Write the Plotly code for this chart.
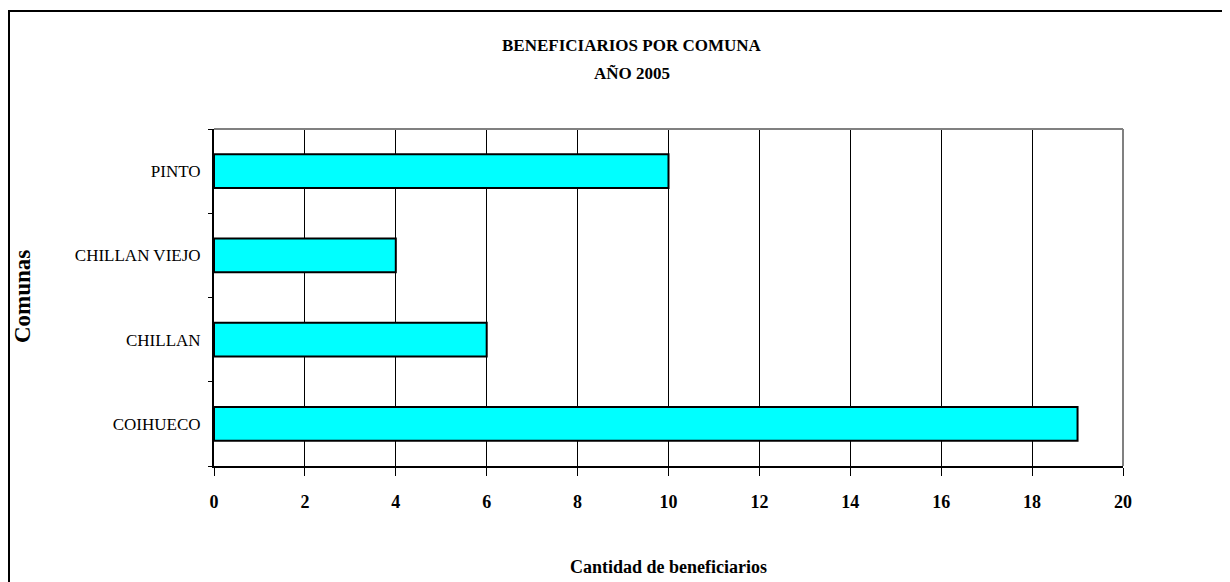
import plotly.graph_objects as go

comunas = ["COIHUECO", "CHILLAN", "CHILLAN VIEJO", "PINTO"]
beneficiarios = [19, 6, 4, 10]
x_ticks = [0, 2, 4, 6, 8, 10, 12, 14, 16, 18, 20]

# The page body has an 8px margin, so the figure is sized to fill the window.
OFF = 8
W, H = 1230 - OFF, 582 - OFF
L, T = 214 - OFF, 129 - OFF
PW, PH = 909, 337
R, B = W - L - PW, H - T - PH

def px(x):
    """reference page pixel -> paper x"""
    return (x - OFF - L) / PW

def py(y):
    """reference page pixel -> paper y"""
    return 1 - (y - OFF - T) / PH

FONT = "Liberation Serif"

fig = go.Figure(go.Bar(
    x=beneficiarios, y=comunas, orientation="h",
    marker=dict(color="#00FFFF", line=dict(color="black", width=2)),
    hoverinfo="x+y",
))

fig.update_layout(
    width=W, height=H,
    margin=dict(l=L, r=R, t=T, b=B),
    paper_bgcolor="white", plot_bgcolor="white",
    bargap=0.6, showlegend=False,
    font=dict(family=FONT, color="black"),
    xaxis=dict(
        range=[0, 20], tickvals=x_ticks, ticktext=[str(v) for v in x_ticks],
        showgrid=True, gridcolor="black", gridwidth=1,
        showline=True, linecolor="black", linewidth=2,
        ticks="outside", ticklen=8, tickcolor="black", tickwidth=1,
        tickfont=dict(family=FONT, size=18, weight="bold", color="black"),
        ticklabelstandoff=10, zeroline=False,
    ),
    yaxis=dict(
        categoryorder="array", categoryarray=comunas,
        showgrid=False, showline=True, linecolor="black", linewidth=2,
        ticks="outside", ticklen=4, tickcolor="black", tickwidth=1,
        tickson="boundaries",
        tickfont=dict(family=FONT, size=17, color="black"),
        ticklabelstandoff=8,
    ),
    shapes=[
        dict(type="line", xref="paper", yref="paper", x0=0, x1=1, y0=1, y1=1,
             line=dict(color="#808080", width=2), layer="above"),
        dict(type="line", xref="paper", yref="paper", x0=1, x1=1, y0=0, y1=1,
             line=dict(color="#808080", width=2), layer="above"),
        dict(type="rect", xref="paper", yref="paper",
             x0=px(9), x1=px(1250), y0=py(11), y1=py(620),
             line=dict(color="black", width=2), layer="below"),
    ],
    annotations=[
        dict(text="<b>BENEFICIARIOS POR COMUNA</b>", xref="paper", yref="paper",
             x=px(632), y=py(45), showarrow=False, font=dict(family=FONT, size=17),
             xanchor="center", yanchor="middle"),
        dict(text="<b>AÑO 2005</b>", xref="paper", yref="paper",
             x=px(632), y=py(73), showarrow=False, font=dict(family=FONT, size=17),
             xanchor="center", yanchor="middle"),
        dict(text="<b>Cantidad de beneficiarios</b>", xref="paper", yref="paper",
             x=px(668), y=py(567), showarrow=False, font=dict(family=FONT, size=18),
             xanchor="center", yanchor="middle"),
        dict(text="<b>Comunas</b>", xref="paper", yref="paper",
             x=px(22), y=py(297), showarrow=False, textangle=-90,
             font=dict(family=FONT, size=23),
             xanchor="center", yanchor="middle"),
    ],
)

fig.write_html("out.html")
